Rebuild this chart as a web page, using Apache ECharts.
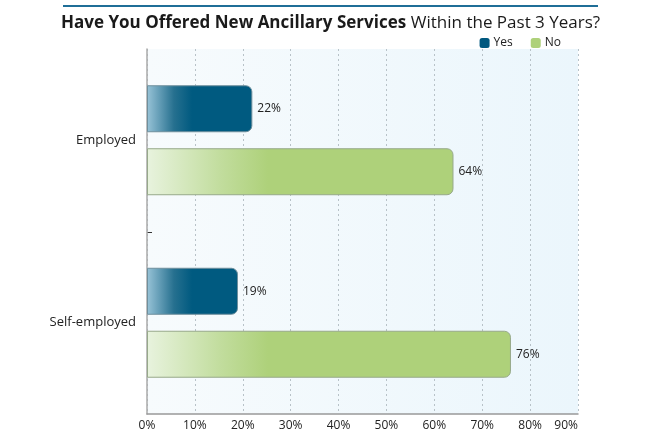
<!DOCTYPE html>
<html>
<head>
<meta charset="utf-8">
<script src="https://cdn.jsdelivr.net/npm/echarts@6/dist/echarts.min.js"></script>
<style>
  html, body { margin: 0; padding: 0; background: #fff; }
  #chart { width: 645px; height: 439px; }
</style>
</head>
<body>
<div id="chart"></div>
<script>
// data
var categories = ["Employed", "Self-employed"];
var yesValues = [22, 19];
var noValues = [64, 76];
var xTicks = [0, 10, 20, 30, 40, 50, 60, 70, 80, 90];

var chart = echarts.init(document.getElementById("chart"));
var font = "'Open Sans', sans-serif";

// gradients are in pixels so the fade always sits at the left of the axis
var yesFill = new echarts.graphic.LinearGradient(147, 0, 192, 0, [
  { offset: 0, color: "#98c3d7" },
  { offset: 0.6, color: "#26708f" },
  { offset: 1, color: "#005a80" }
], true);
var noFill = new echarts.graphic.LinearGradient(147, 0, 268, 0, [
  { offset: 0, color: "#e8f3de" },
  { offset: 0.6, color: "#c2dd9e" },
  { offset: 1, color: "#aed17a" }
], true);

var option = {
  animation: false,
  textStyle: { fontFamily: font },
  title: {
    text: "{b|Have You Offered New Ancillary Services} {n|Within the Past 3 Years?}",
    left: 56,
    top: 9,
    textStyle: {
      rich: {
        b: { fontFamily: font, fontSize: 17, fontWeight: "bold", color: "#1a1a1a" },
        n: { fontFamily: font, fontSize: 17, fontWeight: "normal", color: "#1a1a1a" }
      }
    }
  },
  legend: {
    right: 79,
    top: 32,
    itemWidth: 10,
    itemHeight: 10,
    itemGap: 18,
    icon: "roundRect",
    textStyle: { fontSize: 12, color: "#222", padding: [0, 0, 0, -1] },
    data: [
      { name: "Yes", itemStyle: { color: "#00587f", borderWidth: 0 } },
      { name: "No", itemStyle: { color: "#aed17a", borderWidth: 0 } }
    ]
  },
  grid: {
    left: 147,
    right: 67,
    top: 49,
    bottom: 25,
    show: true,
    borderWidth: 0,
    backgroundColor: new echarts.graphic.LinearGradient(0, 0, 1, 0, [
      { offset: 0, color: "#f7fbfd" },
      { offset: 1, color: "#ebf6fc" }
    ])
  },
  xAxis: {
    type: "value",
    min: xTicks[0],
    max: xTicks[xTicks.length - 1],
    interval: 10,
    axisLine: { show: true, lineStyle: { color: "#999", width: 1.5 } },
    axisTick: { show: false },
    axisLabel: {
      formatter: "{value}%",
      color: "#222",
      fontSize: 12,
      margin: 6,
      alignMaxLabel: "right"
    },
    splitLine: { show: true, lineStyle: { color: "#b8c2c8", type: [2, 3], width: 1 } }
  },
  yAxis: {
    type: "category",
    inverse: true,
    data: categories,
    axisLine: { show: true, lineStyle: { color: "#aaa", width: 1.5 } },
    axisTick: { show: false },
    axisLabel: { color: "#222", fontSize: 13, margin: 11 }
  },
  series: [
    {
      name: "Yes",
      type: "bar",
      data: yesValues,
      barWidth: 47,
      barGap: "34%",
      itemStyle: {
        color: yesFill,
        borderColor: "#6f8f9c",
        borderWidth: 1,
        borderRadius: [0, 6, 6, 0]
      },
      label: {
        show: true,
        position: "right",
        distance: 5,
        formatter: "{c}%",
        color: "#222",
        fontSize: 12
      }
    },
    {
      name: "No",
      type: "bar",
      data: noValues,
      barWidth: 47,
      itemStyle: {
        color: noFill,
        borderColor: "#97a98a",
        borderWidth: 1,
        borderRadius: [0, 6, 6, 0]
      },
      label: {
        show: true,
        position: "right",
        distance: 5,
        formatter: "{c}%",
        color: "#222",
        fontSize: 12
      }
    }
  ]
};

chart.setOption(option);

// blue rule over the title, and the single tick between the two categories
var y0 = chart.convertToPixel({ yAxisIndex: 0 }, categories[0]);
var y1 = chart.convertToPixel({ yAxisIndex: 0 }, categories[1]);
var x0 = chart.convertToPixel({ xAxisIndex: 0 }, 0);
var midY = Math.round((y0 + y1) / 2) + 0.5;
chart.setOption({
  graphic: [
    {
      type: "rect",
      shape: { x: 63, y: 5, width: 535, height: 2 },
      style: { fill: "#1f6e97" }
    },
    {
      type: "line",
      shape: { x1: x0, y1: midY, x2: x0 + 5, y2: midY },
      style: { stroke: "#333", lineWidth: 1 }
    }
  ]
});
</script>
</body>
</html>
